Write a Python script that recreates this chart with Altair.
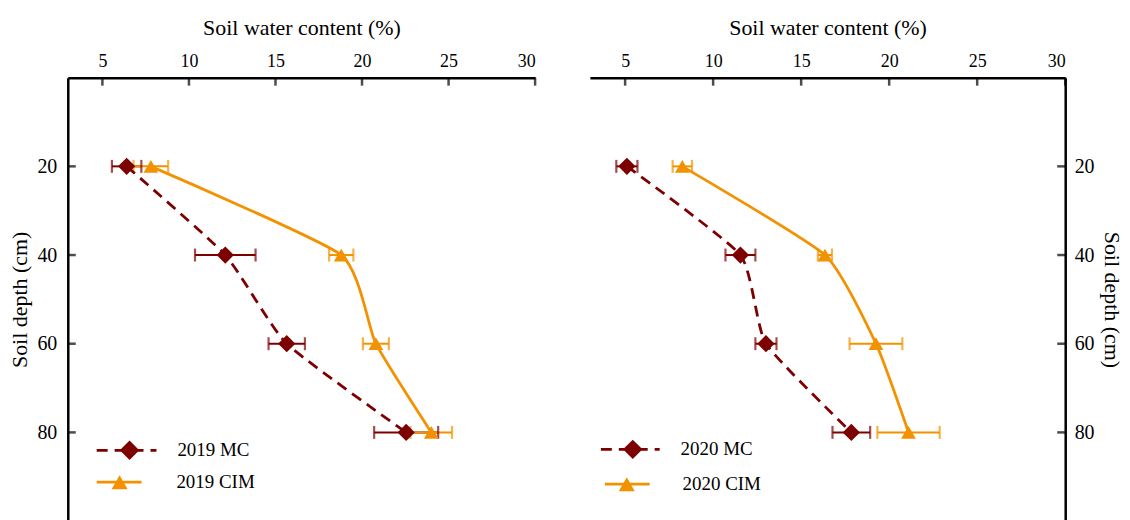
import altair as alt
import pandas as pd

# ---------------- data ----------------
depths = [20, 40, 60, 80]

mc_2019 = [6.4, 12.1, 15.65, 22.55]
mc_2019_err = [0.85, 1.75, 1.05, 1.85]
cim_2019 = [7.8, 18.8, 20.8, 24.0]
cim_2019_err = [1.0, 0.7, 0.75, 1.2]

mc_2020 = [5.1, 11.55, 13.0, 17.85]
mc_2020_err = [0.6, 0.85, 0.6, 1.07]
cim_2020 = [8.25, 16.35, 19.25, 21.1]
cim_2020_err = [0.55, 0.4, 1.5, 1.77]

x_ticks = [5, 10, 15, 20, 25, 30]
y_ticks = [20, 40, 60, 80]
X_DOMAIN = [3, 30]
Y_DOMAIN = [0, 100]

DARK = "#7d0000"
ORANGE = "#f39200"
FONT = "Liberation Serif"
MC_DASH = [11, 7]


def frame(name, vals, errs):
    return pd.DataFrame({
        "series": name,
        "depth": depths,
        "swc": vals,
        "lo": [v - e for v, e in zip(vals, errs)],
        "hi": [v + e for v, e in zip(vals, errs)],
    })


def legend_row(label, color, shape, size, dash, x0, x1, mx, tx, y):
    d = pd.DataFrame({"label": [label]})
    rule_kw = dict(color=color, strokeWidth=2.8)
    if dash:
        rule_kw["strokeDash"] = dash
    rule = alt.Chart(d).mark_rule(**rule_kw).encode(
        x=alt.value(x0), x2=alt.value(x1), y=alt.value(y))
    pt = alt.Chart(d).mark_point(shape=shape, filled=True, size=size, color=color, opacity=1).encode(
        x=alt.value(mx), y=alt.value(y))
    txt = alt.Chart(d).mark_text(align="left", baseline="middle", font=FONT, fontSize=19,
                                 color="black").encode(
        x=alt.value(tx), y=alt.value(y), text="label:N")
    return [rule, pt, txt]


def panel(year, mc_vals, mc_errs, cim_vals, cim_errs, side, width, leg):
    mc_name = f"{year} MC"
    cim_name = f"{year} CIM"
    mc = frame(mc_name, mc_vals, mc_errs)
    cim = frame(cim_name, cim_vals, cim_errs)
    both = pd.concat([mc, cim], ignore_index=True)
    dom = [mc_name, cim_name]

    xaxis = alt.Axis(orient="top", values=x_ticks, title="Soil water content (%)",
                     ticks=False, tickSize=0, labelPadding=7, titlePadding=13,
                     labelFont=FONT, titleFont=FONT, labelFontSize=18, titleFontSize=22,
                     titleFontWeight="normal", grid=False)
    yaxis = alt.Axis(orient=side, values=y_ticks, title="Soil depth (cm)",
                     ticks=False, tickSize=0,
                     labelPadding=11 if side == "left" else 9, titlePadding=5,
                     labelFont=FONT, titleFont=FONT, labelFontSize=20, titleFontSize=22,
                     titleFontWeight="normal", grid=False)
    xs = alt.Scale(domain=X_DOMAIN, nice=False, zero=False)
    ys = alt.Scale(domain=Y_DOMAIN, reverse=True, nice=False, zero=False)

    def X(f):
        return alt.X(f"{f}:Q", scale=xs, axis=xaxis)

    def Y(f):
        return alt.Y(f"{f}:Q", scale=ys, axis=yaxis)

    color = alt.Color("series:N", scale=alt.Scale(domain=dom, range=[DARK, ORANGE]), legend=None)

    err_rule = alt.Chart(both).mark_rule(strokeWidth=2).encode(
        x=X("lo"), x2="hi", y=Y("depth"), color=color)
    cap_lo = alt.Chart(both).mark_tick(orient="vertical", size=13, thickness=2.2).encode(
        x=X("lo"), y=Y("depth"), color=color)
    cap_hi = alt.Chart(both).mark_tick(orient="vertical", size=13, thickness=2.2).encode(
        x=X("hi"), y=Y("depth"), color=color)

    line_mc = alt.Chart(mc).mark_line(strokeWidth=2.8, strokeDash=MC_DASH,
                                      interpolate="cardinal", tension=0.5).encode(
        x=X("swc"), y=Y("depth"), order="depth:Q", color=color)
    line_cim = alt.Chart(cim).mark_line(strokeWidth=2.8, interpolate="cardinal", tension=0.5).encode(
        x=X("swc"), y=Y("depth"), order="depth:Q", color=color)

    pt_mc = alt.Chart(mc).mark_point(shape="diamond", filled=True, size=300, opacity=1).encode(
        x=X("swc"), y=Y("depth"), color=color)
    pt_cim = alt.Chart(cim).mark_point(shape="triangle-up", filled=True, size=220, opacity=1).encode(
        x=X("swc"), y=Y("depth"), color=color)

    # inward axis ticks
    xt = pd.DataFrame({"swc": x_ticks, "depth": [Y_DOMAIN[0]] * len(x_ticks)})
    yt = pd.DataFrame({"swc": [X_DOMAIN[0] if side == "left" else X_DOMAIN[1]] * len(y_ticks),
                       "depth": y_ticks})
    xtick = alt.Chart(xt).mark_tick(orient="vertical", size=8, thickness=2.5, color="black",
                                    yOffset=4).encode(x=X("swc"), y=Y("depth"))
    ytick = alt.Chart(yt).mark_tick(orient="horizontal", size=8, thickness=2.5, color="black",
                                    xOffset=4 if side == "left" else -4).encode(x=X("swc"), y=Y("depth"))

    # legend (line + marker + label)
    (mx0, mx1, mmx, mtx, my), (cx0, cx1, cmx, ctx, cy) = leg
    legend_layers = (legend_row(mc_name, DARK, "diamond", 380, MC_DASH, mx0, mx1, mmx, mtx, my)
                     + legend_row(cim_name, ORANGE, "triangle-up", 260, None, cx0, cx1, cmx, ctx, cy))

    return alt.layer(err_rule, cap_lo, cap_hi, line_mc, line_cim, pt_mc, pt_cim,
                     xtick, ytick, *legend_layers).properties(width=width, height=445)


left = panel(2019, mc_2019, mc_2019_err, cim_2019, cim_2019_err, "left", 469,
             ((29, 89, 62, 110, 374), (29, 74, 52, 109, 406)))
right = panel(2020, mc_2020, mc_2020_err, cim_2020, cim_2020_err, "right", 477,
              ((11, 70, 43, 91, 373), (15, 60, 37, 93, 408)))

chart = alt.hconcat(left, right, spacing=55, bounds="flush").resolve_scale(
    x="independent", y="independent", color="independent",
).properties(
    padding={"left": 1, "top": 8, "right": 0, "bottom": 0}
).configure_view(stroke=None).configure_axis(
    domainColor="black", domainWidth=2.5, labelColor="black", titleColor="black",
    labelFont=FONT, titleFont=FONT, titleFontWeight="normal",
)

chart.save("out.html", embed_options={"renderer": "svg", "actions": False})
